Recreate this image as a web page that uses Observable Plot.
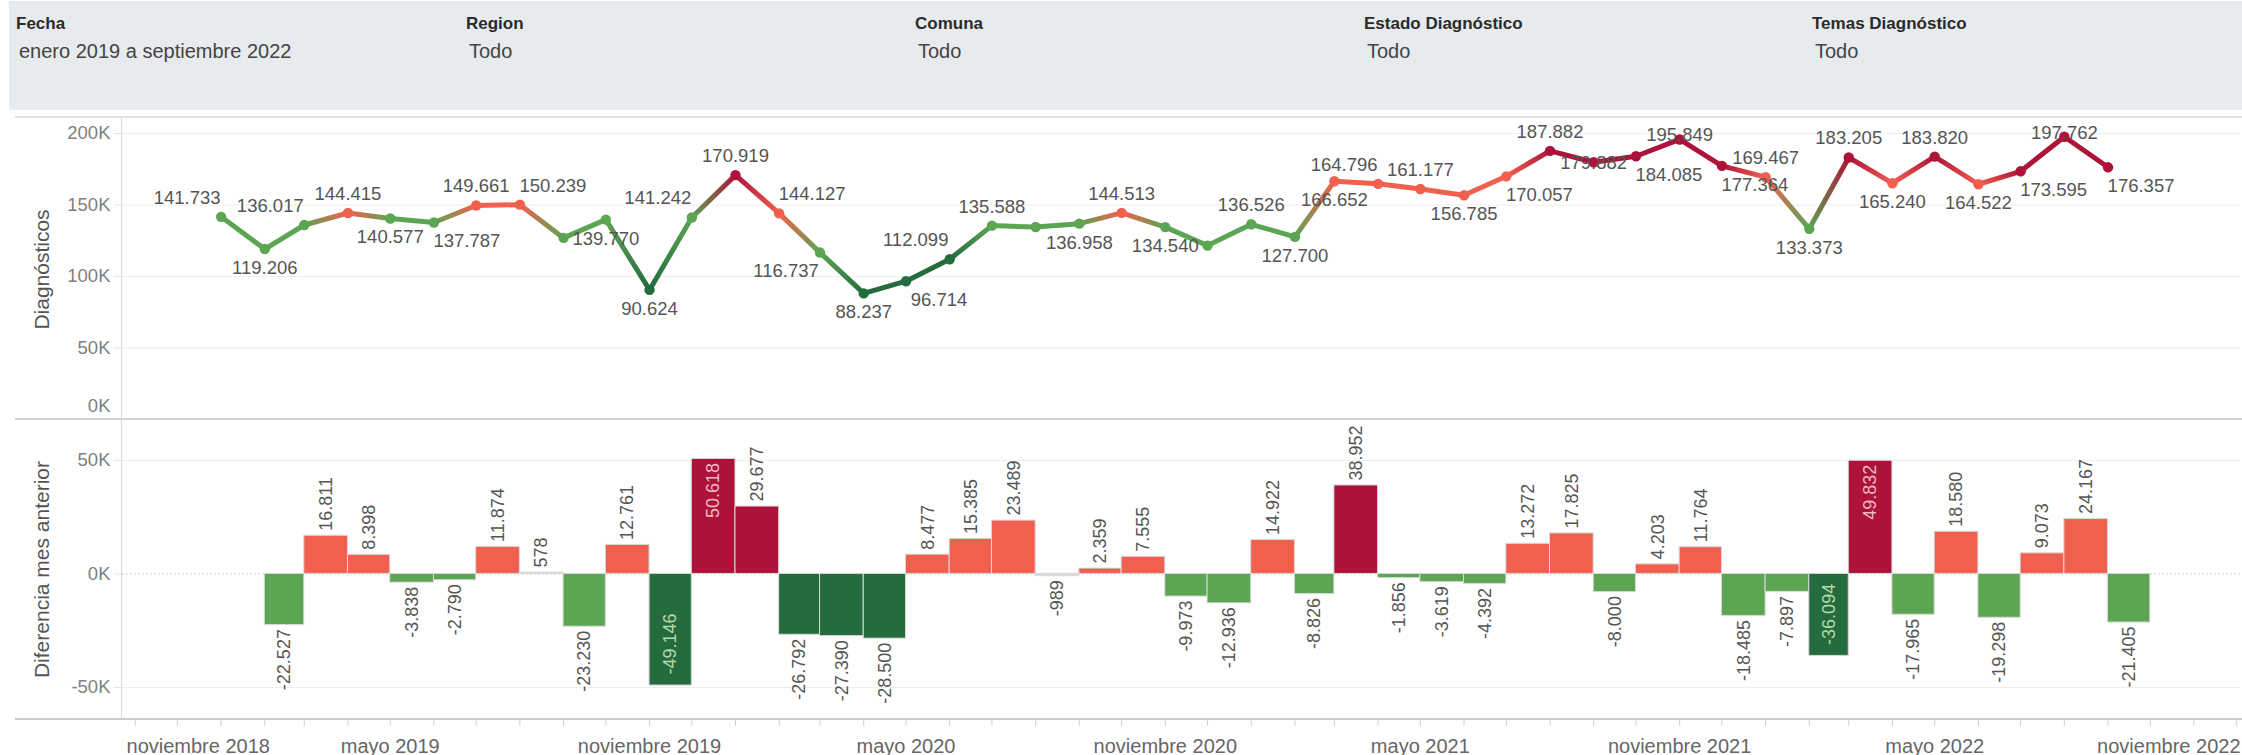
<!DOCTYPE html>
<html>
<head>
<meta charset="utf-8">
<script src="https://cdn.jsdelivr.net/npm/d3@7"></script>
<script src="https://cdn.jsdelivr.net/npm/@observablehq/plot@0.6"></script>
<style>
  html, body { margin: 0; padding: 0; background: #fff; width: 2242px; height: 755px; overflow: hidden; }
  body { font-family: "Liberation Sans", Arial, sans-serif; }
  #page { position: relative; width: 2242px; height: 755px; }
  .filters { position: absolute; left: 9px; top: 1px; width: 2233px; height: 109px; background: #e7ebee; }
  .ft { position: absolute; top: 13px; line-height: 20px; font-weight: bold; font-size: 17px; color: #2b2b2b; white-space: nowrap; }
  .fv { position: absolute; top: 38px; line-height: 24px; font-size: 20px; color: #444; white-space: nowrap; }
  .hline { position: absolute; left: 15px; width: 2227px; height: 2px; z-index: 5; }
  .vline { position: absolute; left: 121px; top: 117px; width: 1.4px; height: 602px; background: #d9d9d9; z-index: 5; }
  .pane { position: absolute; left: 0; }
  .pane svg { overflow: visible; }
</style>
</head>
<body>
<div id="page">
  <div class="filters" id="filters"></div>
  <div class="hline" style="top:116px;background:#e2e2e2"></div>
  <div class="hline" style="top:418px;background:#d3d3d3"></div>
  <div class="hline" style="top:718px;background:#cbcbcb"></div>
  <div class="vline"></div>
  <div class="pane" id="top" style="top:119px"></div>
  <div class="pane" id="bottom" style="top:419px"></div>
</div>
<script>
// ---------------- DATA ----------------
const filtroTitulos = ["Fecha", "Region", "Comuna", "Estado Diagnóstico", "Temas Diagnóstico"];
const filtroValores = ["enero 2019 a septiembre 2022", "Todo", "Todo", "Todo", "Todo"];

const meses = [
  "2019-01","2019-02","2019-03","2019-04","2019-05","2019-06","2019-07","2019-08","2019-09","2019-10","2019-11","2019-12",
  "2020-01","2020-02","2020-03","2020-04","2020-05","2020-06","2020-07","2020-08","2020-09","2020-10","2020-11","2020-12",
  "2021-01","2021-02","2021-03","2021-04","2021-05","2021-06","2021-07","2021-08","2021-09","2021-10","2021-11","2021-12",
  "2022-01","2022-02","2022-03","2022-04","2022-05","2022-06","2022-07","2022-08","2022-09"
];
const diagnosticos = [
  141733,119206,136017,144415,140577,137787,149661,150239,127009,139770,90624,141242,
  170919,144127,116737,88237,96714,112099,135588,134599,136958,144513,134540,121604,
  136526,127700,166652,164796,161177,156785,170057,187882,179882,184085,195849,177364,
  169467,133373,183205,165240,183820,164522,173595,197762,176357
];
const diferencia = [
  null,-22527,16811,8398,-3838,-2790,11874,578,-23230,12761,-49146,50618,
  29677,-26792,-27390,-28500,8477,15385,23489,-989,2359,7555,-9973,-12936,
  14922,-8826,38952,-1856,-3619,-4392,13272,17825,-8000,4203,11764,-18485,
  -7897,-36094,49832,-17965,18580,-19298,9073,24167,-21405
];
// label placement for the line labels ("" = not shown)
const posEtiqueta = [
  "tl","b","tl","t","b","br","t","tr","","b","b","tl",
  "t","tr","bl","b","br","tl","t","","b","t","b","",
  "t","b","b","tl","t","b","br","t","c","br","o","br",
  "t","b","t","b","t","b","br","o","br"
];
const ticksEtiqueta = ["2018-11","2019-05","2019-11","2020-05","2020-11","2021-05","2021-11","2022-05","2022-11"];
const nombresMes = ["enero","febrero","marzo","abril","mayo","junio","julio","agosto","septiembre","octubre","noviembre","diciembre"];
const ticksDiag = [0, 50000, 100000, 150000, 200000];
const ticksDif = [-50000, 0, 50000];
const tituloY1 = "Diagnósticos";
const tituloY2 = "Diferencia mes anterior";

// ---------------- STYLE ----------------
const FONT = "'Liberation Sans', Arial, sans-serif";
const C = { dkgreen: "#246b3d", green: "#5ca553", gray: "#dadada", salmon: "#f1604f", crimson: "#ad1339" };
const W = 2242, ML = 122, MR = 2;
const parse = s => { const [y, m] = s.split("-").map(Number); return new Date(Date.UTC(y, m - 1, 1)); };
const xDomain = [new Date(Date.UTC(2018, 9, 23)), new Date(Date.UTC(2022, 11, 4))];
const fmt = d3.formatLocale({decimal: ",", thousands: ".", grouping: [3], currency: ["$", ""], minus: "-"}).format(",d");
const kfmt = d => `${d / 1000}K`;

// filters header
const fl = document.getElementById("filters");
const colX = [16, 466, 915, 1364, 1812];
filtroTitulos.forEach((t, i) => {
  const a = document.createElement("div"); a.className = "ft"; a.style.left = (colX[i] - 9) + "px"; a.textContent = t; fl.appendChild(a);
  const b = document.createElement("div"); b.className = "fv"; b.style.left = (colX[i] - 6) + "px"; b.textContent = filtroValores[i]; fl.appendChild(b);
});

// ---------------- LINE (top pane) ----------------
const fechas = meses.map(parse);
const ext = d3.extent(diagnosticos);
const paso = (ext[1] - ext[0]) / 4;
const colorLinea = d3.scaleThreshold().domain([ext[0] + paso, ext[0] + 2 * paso, ext[0] + 3 * paso])
  .range([C.dkgreen, C.green, C.salmon, C.crimson]);
const colorBarra = d3.scaleThreshold().domain([-25000, -1000, 1000, 25000])
  .range([C.dkgreen, C.green, C.gray, C.salmon, C.crimson]);

const puntos = fechas.map((f, i) => ({fecha: f, valor: diagnosticos[i], pos: posEtiqueta[i], color: colorLinea(diagnosticos[i])}));
const segs = puntos.slice(1).map((p, i) => ({a: puntos[i], b: p, id: "seg" + i}));

const offs = {t: [0, -19], b: [0, 19], tl: [-34, -19], tr: [33, -19], bl: [-34, 19], br: [33, 19], c: [0, 1], o: [0, -4]};

const topPlot = Plot.plot({
  width: W, height: 300, marginLeft: ML, marginRight: MR, marginTop: 0, marginBottom: 0,
  style: {fontFamily: FONT, fontSize: "18.5px", background: "transparent", overflow: "visible"},
  x: {type: "utc", domain: xDomain, axis: null},
  y: {domain: [0, 209800], axis: null},
  marks: [
    Plot.gridY(ticksDiag.filter(d => d > 0), {stroke: "#eeeeee", strokeOpacity: 1}),
    Plot.axisY(ticksDiag.filter(d => d > 0), {label: null, tickSize: 8, tickPadding: 4, tickFormat: kfmt, stroke: "#e6e6e6", fill: "#808080", fontSize: 18.5}),
    Plot.axisY([0], {label: null, tickSize: 8, tickPadding: 4, tickFormat: kfmt, stroke: "none", fill: "#808080", fontSize: 18.5, dy: -13}),
    Plot.text([tituloY1], {frameAnchor: "left", textAnchor: "middle", dx: -80, rotate: -90, text: d => d, fontSize: 21, fill: "#555"}),
    Plot.link(segs, {x1: d => d.a.fecha, y1: d => d.a.valor, x2: d => d.b.fecha, y2: d => d.b.valor,
      stroke: d => `url(#${d.id})`, strokeWidth: 5, strokeLinecap: "round", strokeOpacity: 1}),
    Plot.dot(puntos, {x: "fecha", y: "valor", fill: "color", r: 5.2, stroke: null}),
    ...Object.entries(offs).map(([k, [dx, dy]]) =>
      Plot.text(puntos.filter(p => p.pos === k), {x: "fecha", y: "valor", text: d => fmt(d.valor), dx, dy, fill: "#555", fontSize: 18.5}))
  ]
});
document.getElementById("top").appendChild(topPlot);

// gradients along each line segment, positioned through the plot's own scales
{
  const sx = topPlot.scale("x"), sy = topPlot.scale("y");
  const fx = d3.scaleUtc(sx.domain, sx.range), fy = d3.scaleLinear(sy.domain, sy.range);
  const ns = "http://www.w3.org/2000/svg";
  const defs = document.createElementNS(ns, "defs");
  segs.forEach(s => {
    const g = document.createElementNS(ns, "linearGradient");
    g.setAttribute("id", s.id);
    g.setAttribute("gradientUnits", "userSpaceOnUse");
    g.setAttribute("x1", fx(s.a.fecha)); g.setAttribute("y1", fy(s.a.valor));
    g.setAttribute("x2", fx(s.b.fecha)); g.setAttribute("y2", fy(s.b.valor));
    [[0, s.a.color], [1, s.b.color]].forEach(([o, c]) => {
      const st = document.createElementNS(ns, "stop");
      st.setAttribute("offset", o); st.setAttribute("stop-color", c);
      g.appendChild(st);
    });
    defs.appendChild(g);
  });
  topPlot.insertBefore(defs, topPlot.firstChild);
}

// ---------------- BARS (bottom pane) ----------------
const yDom2 = [-64100, 68000];
const H2 = 336, MB2 = 36;
const ypix = d3.scaleLinear(yDom2, [H2 - MB2, 0]);
const ctx = document.createElement("canvas").getContext("2d");
ctx.font = "18px " + FONT;
const barras = fechas.map((f, i) => {
  const fin = d3.utcMonth.offset(f, 1);
  const v = diferencia[i];
  if (v == null) return null;
  const w = ctx.measureText(fmt(v)).width;
  const fuera = v >= 0 ? (ypix(v) - 5 - w >= 0) : (ypix(v) + 4 + w <= H2 - MB2);
  return {inicio: f, fin, medio: new Date((+f + +fin) / 2), valor: v, color: colorBarra(v), fuera};
}).filter(d => d);

const ticksMes = d3.utcMonth.range(d3.utcMonth.ceil(xDomain[0]), xDomain[1]);
const etiquetas = new Set(ticksEtiqueta.map(s => +parse(s)));
const fmtMes = d => etiquetas.has(+d) ? `${nombresMes[d.getUTCMonth()]} ${d.getUTCFullYear()}` : "";

const botPlot = Plot.plot({
  width: W, height: H2, marginLeft: ML, marginRight: MR, marginTop: 0, marginBottom: MB2,
  style: {fontFamily: FONT, fontSize: "18.5px", background: "transparent", overflow: "visible"},
  x: {type: "utc", domain: xDomain, axis: null},
  y: {domain: yDom2, axis: null},
  marks: [
    Plot.gridY(ticksDif.filter(d => d !== 0), {stroke: "#eeeeee", strokeOpacity: 1}),
    Plot.ruleY([0], {stroke: "#b8b8b8", strokeDasharray: "1.5,2.5"}),
    Plot.axisY(ticksDif, {label: null, tickSize: 8, tickPadding: 4, tickFormat: kfmt, stroke: "#e6e6e6", fill: "#808080", fontSize: 18.5}),
    Plot.axisX(ticksMes, {label: null, anchor: "bottom", tickSize: 7, tickPadding: 12, tickFormat: fmtMes, stroke: "#d0d0d0", fill: "#666", fontSize: 20}),
    Plot.text([tituloY2], {frameAnchor: "left", textAnchor: "middle", dx: -80, rotate: -90, text: d => d, fontSize: 21, fill: "#555"}),
    Plot.rect(barras, {x1: "inicio", x2: "fin", y1: () => 0, y2: "valor", fill: "color", stroke: "#d9d9d9", strokeWidth: 1}),
    Plot.text(barras.filter(d => d.fuera && d.valor >= 0), {x: "medio", y: "valor", text: d => fmt(d.valor), rotate: -90, textAnchor: "start", dy: -5, fill: "#555", fontSize: 18}),
    Plot.text(barras.filter(d => d.fuera && d.valor < 0), {x: "medio", y: "valor", text: d => fmt(d.valor), rotate: -90, textAnchor: "end", dy: 4, fill: "#555", fontSize: 18}),
    Plot.text(barras.filter(d => !d.fuera && d.valor >= 0), {x: "medio", y: "valor", text: d => fmt(d.valor), rotate: -90, textAnchor: "end", dy: 4, fill: "#f0b8c6", fontSize: 18}),
    Plot.text(barras.filter(d => !d.fuera && d.valor < 0), {x: "medio", y: "valor", text: d => fmt(d.valor), rotate: -90, textAnchor: "start", dy: -11, fill: "#b5d9aa", fontSize: 18})
  ]
});
document.getElementById("bottom").appendChild(botPlot);

// keep edge tick labels inside the plot area (as Tableau does)
botPlot.querySelectorAll('g[aria-label="x-axis tick label"] text').forEach(t => {
  if (!t.textContent) return;
  const b = t.getBBox();
  const tr = t.getAttribute("transform") || "";
  const mt = /translate\(([-\d.]+)/.exec(tr);
  const tx = mt ? +mt[1] : 0;
  const left = tx + b.x, right = tx + b.x + b.width;
  let shift = 0;
  if (left < ML + 4) shift = ML + 4 - left;
  else if (right > W - MR) shift = (W - MR) - right;
  if (shift) t.setAttribute("dx", shift);
});
</script>
</body>
</html>
